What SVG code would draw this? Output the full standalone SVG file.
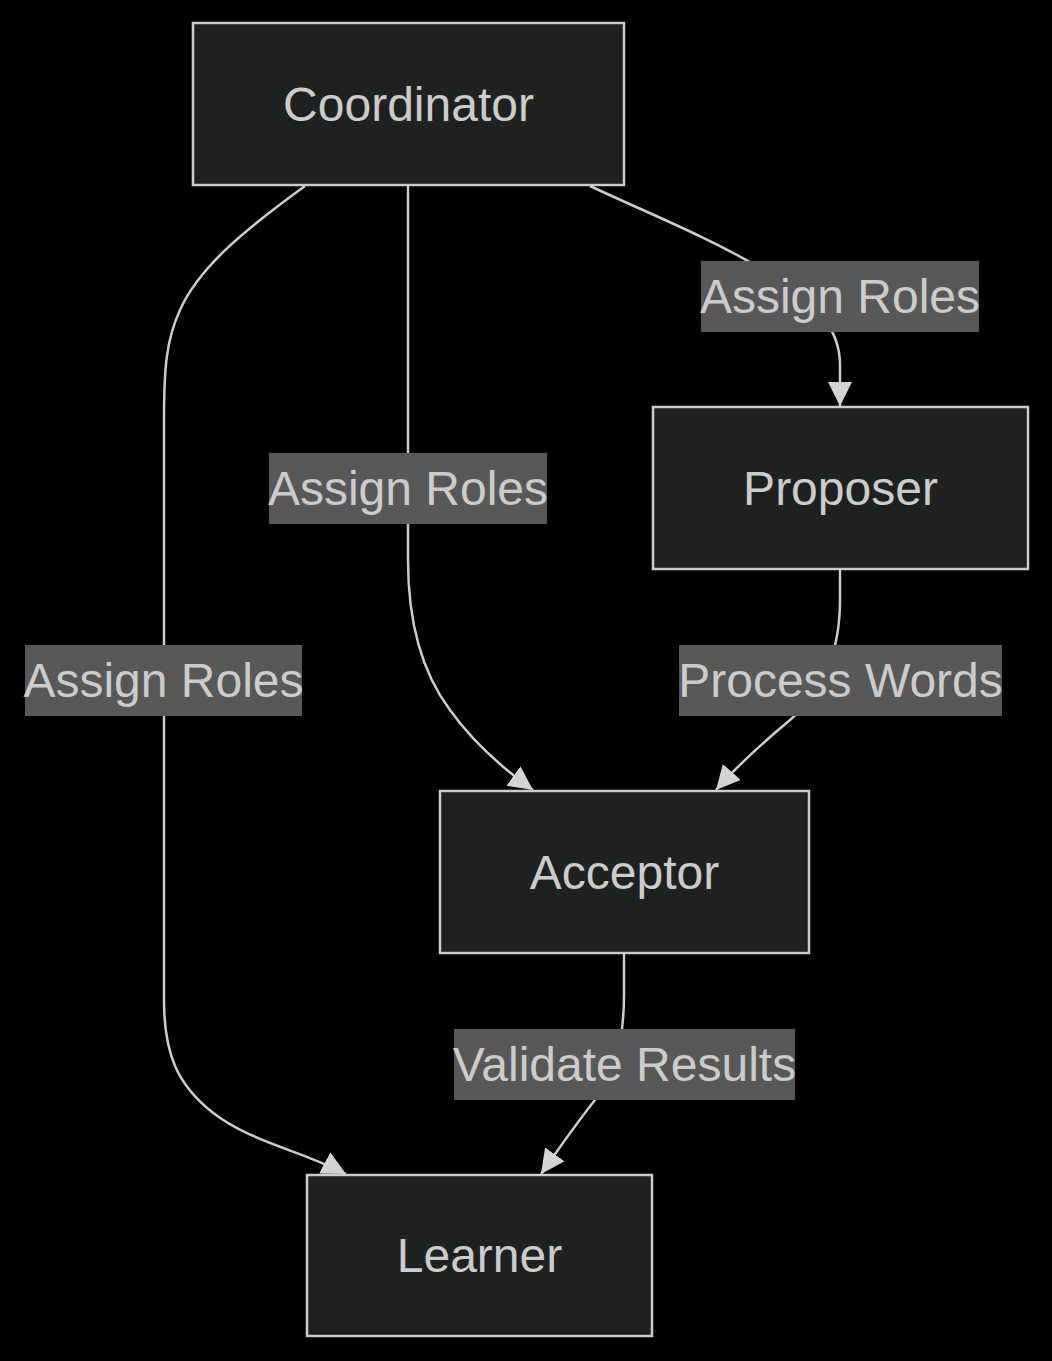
<svg xmlns="http://www.w3.org/2000/svg" width="1052" height="1361" viewBox="0 0 1052 1361">
<style>
.node rect{fill:#1f2020;stroke:#cccccc;stroke-width:2.5}
.node text{fill:#cccccc;font-family:"Liberation Sans",Arial,sans-serif;font-size:48px;text-anchor:middle;dominant-baseline:central}
.edge{fill:none;stroke:#cccccc;stroke-width:2.5;marker-end:url(#arrow)}
.lbl rect{fill:#585858}
.lbl text{fill:#cccccc;font-family:"Liberation Sans",Arial,sans-serif;font-size:48px;text-anchor:middle;dominant-baseline:central}
</style>
<defs>
<marker id="arrow" markerUnits="userSpaceOnUse" markerWidth="24" markerHeight="24" viewBox="0 0 10 10" refX="10" refY="5" orient="auto">
<path d="M0,0 L10,5 L0,10 z" fill="#d3d3d3"/>
</marker>
</defs>
<rect width="1052" height="1361" fill="#000000"/>
<g id="connectors">
<path class="edge" d="M305,186 C250,226 200,265 180,310 C166,340 164,370 164,420 L164,1000 C164,1055 178,1085 212,1112 C250,1142 300,1150 346,1174"/>
<path class="edge" d="M408,186 L408,560 C408,620 420,670 450,710 C475,745 505,770 533,790"/>
<path class="edge" d="M590,186 C650,214 710,238 760,268 C820,304 840,330 840,365 L840,406"/>
<path class="edge" d="M840,570 L840,600 C840,650 825,690 790,720 C760,745 738,765 716,790"/>
<path class="edge" d="M624,954 L624,995 C624,1040 615,1075 595,1100 C575,1125 558,1150 541,1174"/>
</g>
<g id="edge-labels">
<g class="lbl" id="label-coord-proposer"><rect x="701" y="261" width="278" height="71"/><text x="840" y="296.5">Assign Roles</text></g>
<g class="lbl" id="label-coord-acceptor"><rect x="269" y="453" width="278" height="71"/><text x="408" y="488.5">Assign Roles</text></g>
<g class="lbl" id="label-coord-learner"><rect x="25" y="645" width="277" height="71"/><text x="163.5" y="680.5">Assign Roles</text></g>
<g class="lbl" id="label-proposer-acceptor"><rect x="679" y="645" width="323" height="71"/><text x="840.5" y="680.5">Process Words</text></g>
<g class="lbl" id="label-acceptor-learner"><rect x="454" y="1029" width="341" height="71"/><text x="624.5" y="1064.5">Validate Results</text></g>
</g>
<g class="node" id="coordinator"><rect x="193" y="23" width="431" height="162"/><text x="408.5" y="104">Coordinator</text></g>
<g class="node" id="proposer"><rect x="653" y="407" width="375" height="162"/><text x="840.5" y="488">Proposer</text></g>
<g class="node" id="acceptor"><rect x="440" y="791" width="369" height="162"/><text x="624.5" y="872">Acceptor</text></g>
<g class="node" id="learner"><rect x="307" y="1175" width="345" height="161"/><text x="479.5" y="1255.5">Learner</text></g>
</svg>
